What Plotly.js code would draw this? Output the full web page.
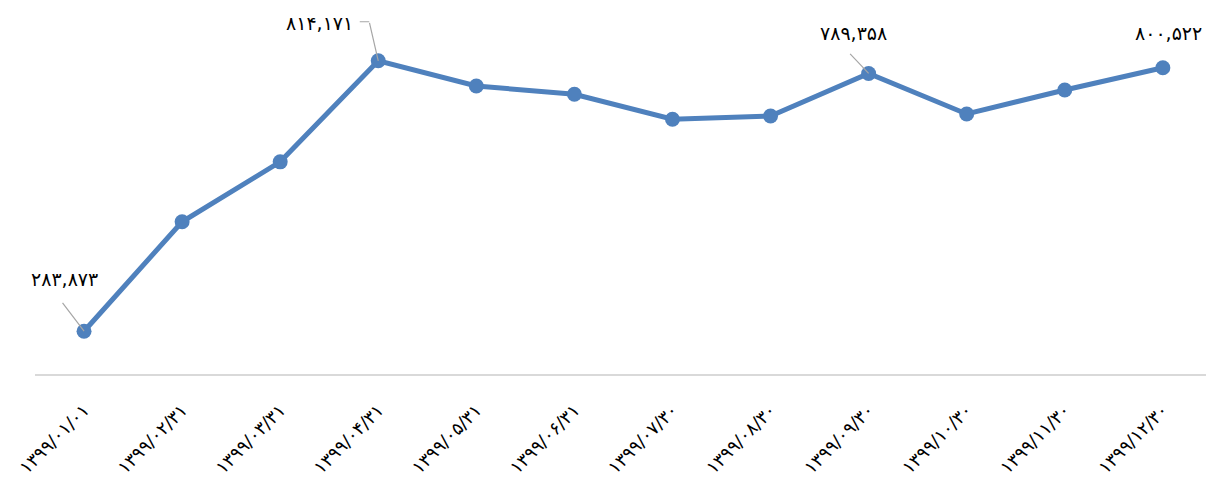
<!DOCTYPE html>
<html>
<head>
<meta charset="utf-8">
<script src="https://cdn.plot.ly/plotly-3.0.1.min.js"></script>
<style>html,body{margin:0;padding:0;background:#fff;}#chart{width:1206px;height:490px;}</style>
</head>
<body>
<div id="chart"></div>
<script>
const categories = ["۱۳۹۹/۰۱/۰۱","۱۳۹۹/۰۲/۳۱","۱۳۹۹/۰۳/۳۱","۱۳۹۹/۰۴/۳۱","۱۳۹۹/۰۵/۳۱","۱۳۹۹/۰۶/۳۱","۱۳۹۹/۰۷/۳۰","۱۳۹۹/۰۸/۳۰","۱۳۹۹/۰۹/۳۰","۱۳۹۹/۱۰/۳۰","۱۳۹۹/۱۱/۳۰","۱۳۹۹/۱۲/۳۰"];
const values = [283873, 498500, 616000, 814171, 764700, 748400, 699500, 706000, 789358, 709900, 756800, 800522];
const labelledIdx = [0, 3, 8, 11];
const labelTexts = ["۲۸۳,۸۷۳", "۸۱۴,۱۷۱", "۷۸۹,۳۵۸", "۸۰۰,۵۲۲"];

const FONT = "'B Nazanin', 'DejaVu Sans', 'Noto Sans', sans-serif";
const lineCol = "#4F81BD";
const leadCol = "#A6A6A6";

// label offsets (px) relative to each labelled point
const labelOff = [[-20, 52], [-59, 38], [-15, 40], [6, 35]];

const annotations = [];
labelledIdx.forEach((idx, k) => {
  annotations.push({
    x: idx, y: values[idx], xref: 'x', yref: 'y',
    text: labelTexts[k], showarrow: false,
    xshift: labelOff[k][0], yshift: labelOff[k][1],
    font: {family: FONT, size: 19, color: '#000'}
  });
});
// leader lines
const leaders = [
  {i: 0, ax: -22, ay: -29, xs: 0, ys: 0},
  {i: 3, ax: -9, ay: -39, xs: 0, ys: 0},
  {i: 3, ax: -10, ay: 0, xs: -9, ys: 39},
  {i: 8, ax: -19, ay: -20, xs: 0, ys: 0}
];
leaders.forEach(l => {
  annotations.push({
    x: l.i, y: values[l.i], xref: 'x', yref: 'y',
    text: ' ', font: {size: 1}, borderpad: 0,
    showarrow: true, arrowhead: 0, arrowwidth: 1.2, arrowcolor: leadCol,
    ax: l.ax, ay: l.ay, xshift: l.xs, yshift: l.ys, standoff: 0
  });
});

const trace = {
  x: categories.map((c, i) => i),
  y: values,
  type: 'scatter',
  mode: 'lines+markers',
  line: {color: lineCol, width: 5},
  marker: {color: lineCol, size: 15},
  hoverinfo: 'skip'
};

const layout = {
  width: 1206, height: 490,
  margin: {l: 35, r: 0, t: 17, b: 115.5},
  paper_bgcolor: '#fff', plot_bgcolor: '#fff',
  showlegend: false,
  xaxis: {
    range: [-0.5, 11.44],
    tickmode: 'array',
    tickvals: categories.map((c, i) => i),
    ticktext: categories,
    tickangle: -45,
    ticks: 'outside', ticklen: 17, tickcolor: 'rgba(0,0,0,0)',
    showgrid: false, zeroline: false,
    showline: true, linecolor: '#D9D9D9', linewidth: 1.5,
    tickfont: {family: FONT, size: 18, color: '#000'}
  },
  yaxis: {
    range: [200000, 900000],
    visible: false, showgrid: false, zeroline: false
  },
  annotations: annotations
};

Plotly.newPlot('chart', [trace], layout, {displayModeBar: false, staticPlot: true});
</script>
</body>
</html>
